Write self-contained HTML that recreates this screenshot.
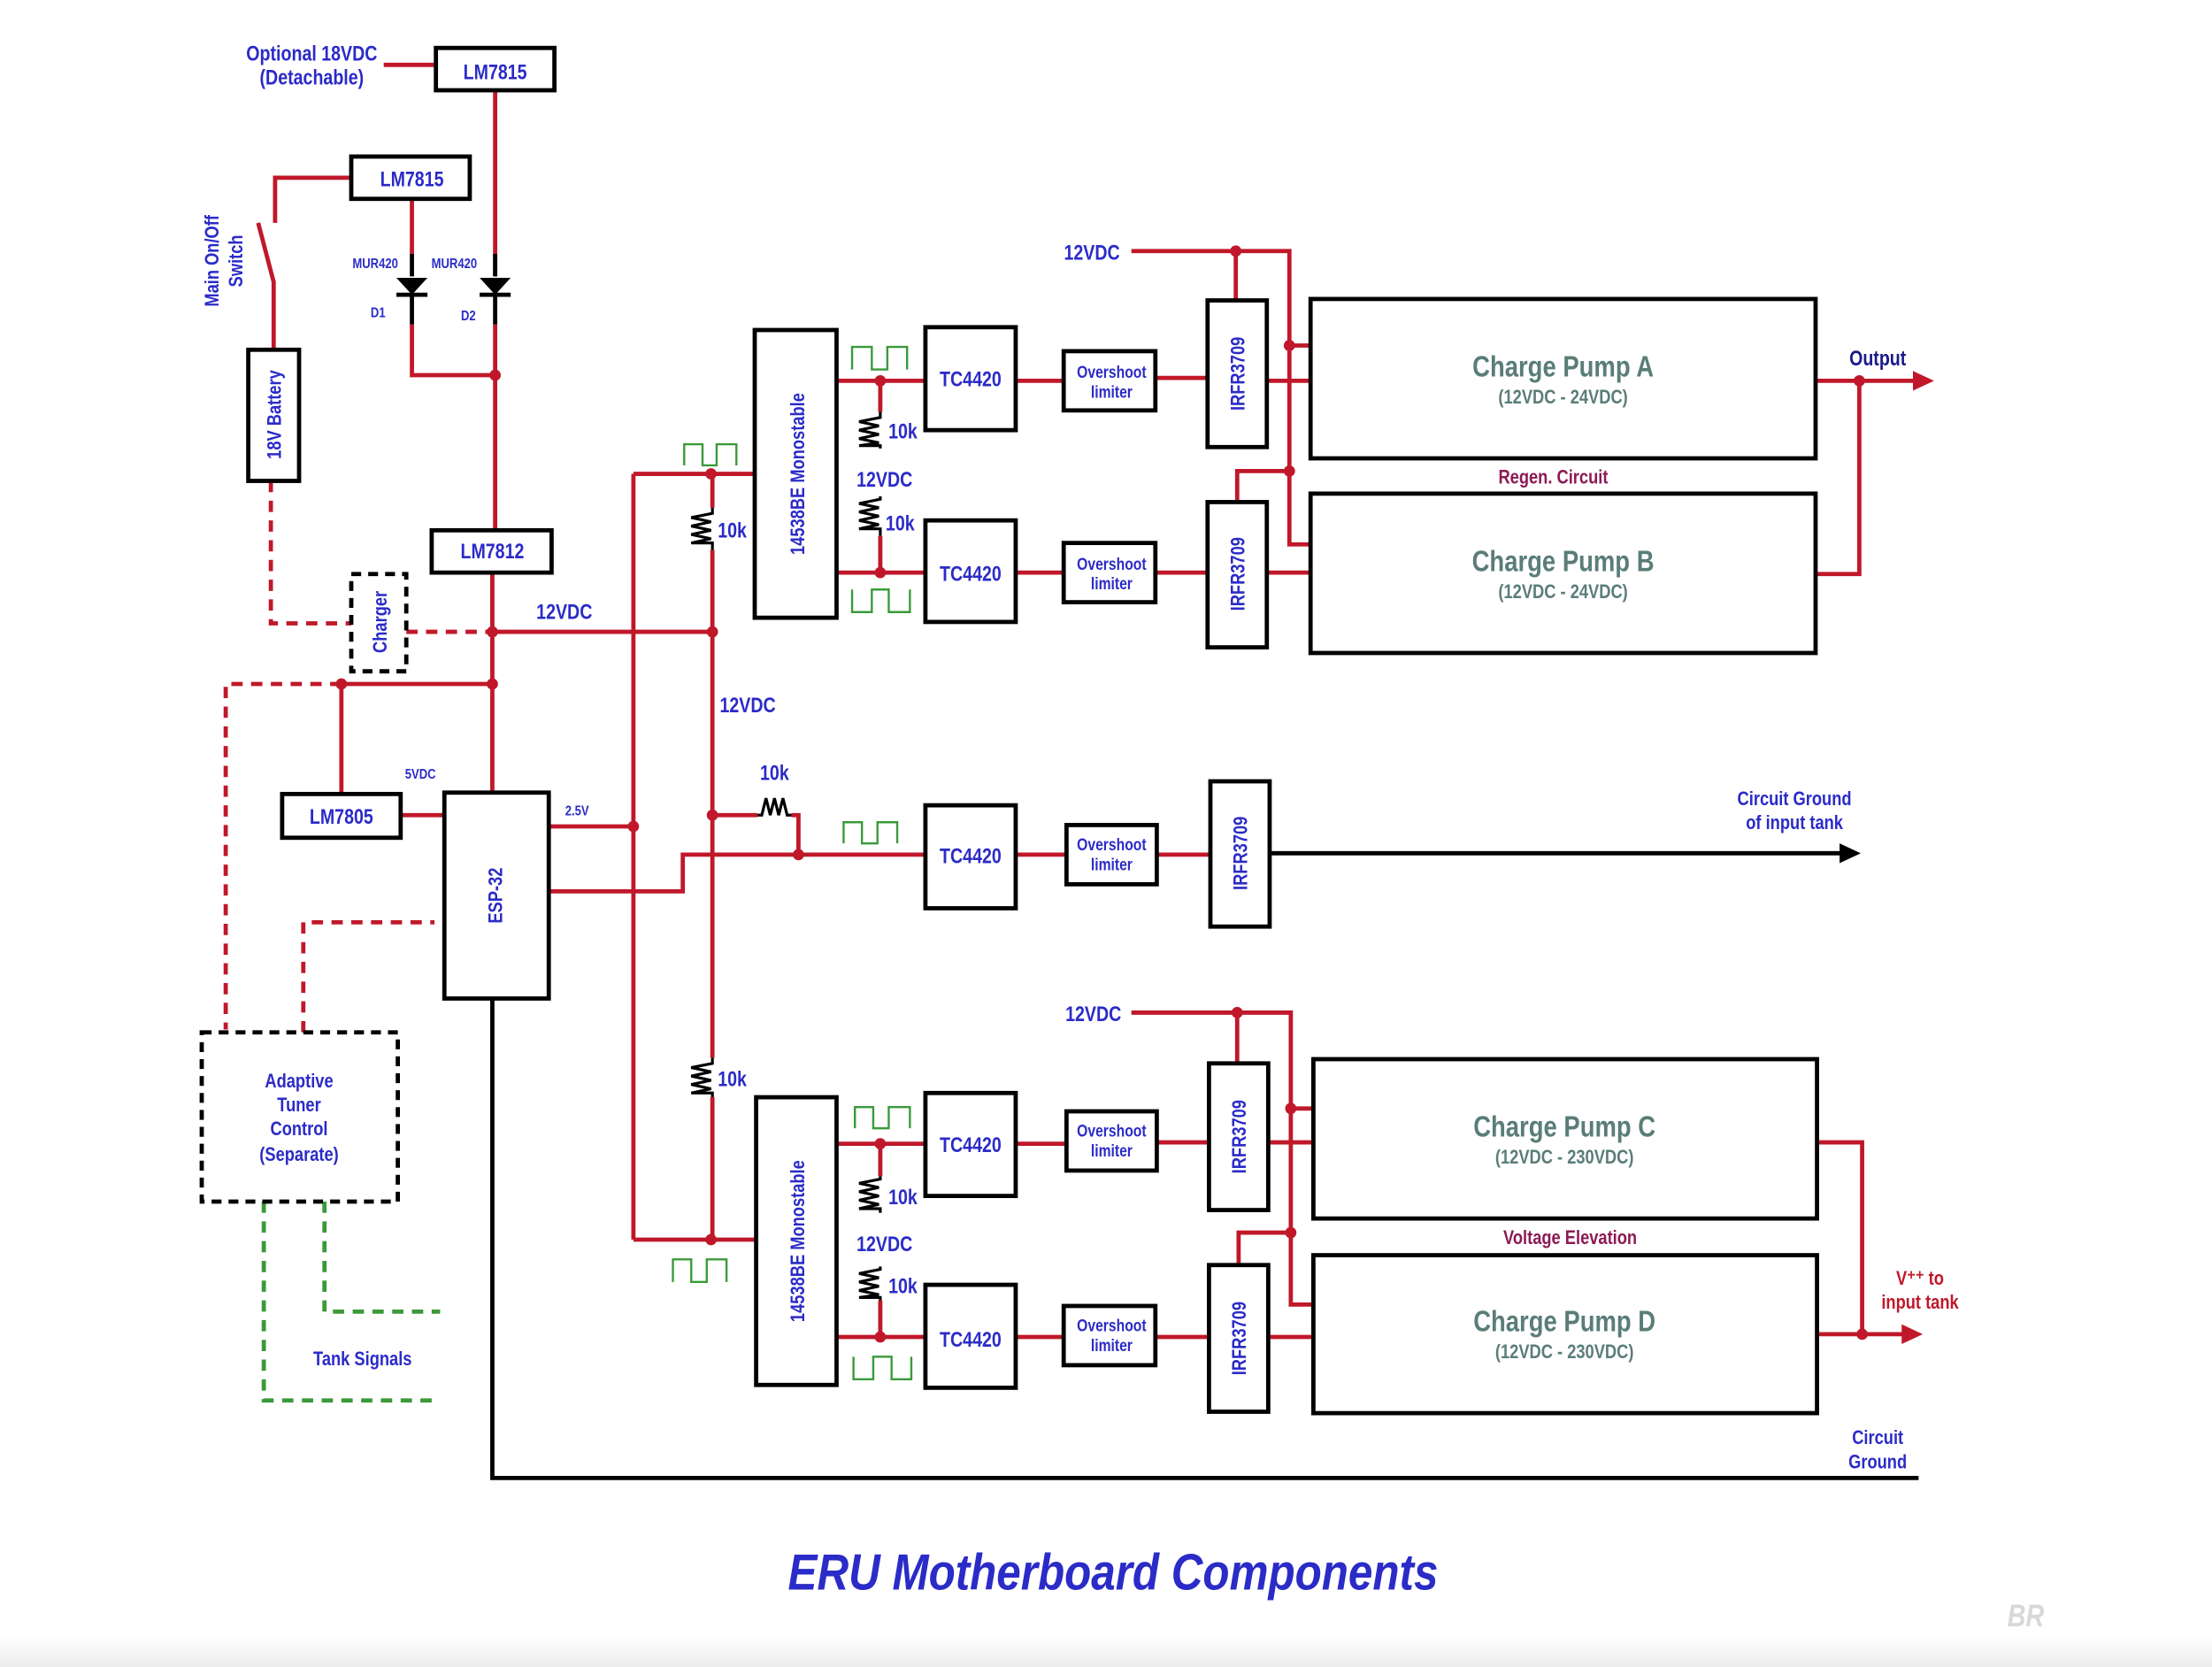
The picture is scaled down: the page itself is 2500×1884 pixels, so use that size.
<!DOCTYPE html>
<html><head><meta charset="utf-8"><style>
html,body{margin:0;padding:0;background:#fff;}
svg{display:block;}
text{font-family:"Liberation Sans Narrow","Liberation Sans",sans-serif;font-weight:bold;transform-box:fill-box;transform-origin:center;transform:scaleX(0.82);}
text.t{transform:scaleX(0.86);}
</style></head><body>
<svg width="2500" height="1884" viewBox="0 0 1568 1182" preserveAspectRatio="none" xmlns="http://www.w3.org/2000/svg">
<defs>
<linearGradient id="bg" x1="0" y1="0" x2="0" y2="1"><stop offset="0" stop-color="#fff"/><stop offset="1" stop-color="#ececec"/></linearGradient>
</defs>
<rect x="0" y="0" width="1568" height="1182" fill="#fff"/>
<rect x="0" y="1160" width="1568" height="22" fill="url(#bg)"/>

<g fill="none" stroke="#c0182a" stroke-width="3">
<path d="M272 46H309"/>
<path d="M351 64V196"/>
<path d="M351 230V376"/>
<path d="M249 126H195V158"/>
<path d="M183 158L194 200V248"/>
<path d="M292 141V180"/>
<path d="M292 230V266H351"/>
<path d="M349 406V562"/>
<path d="M349 448H505"/>
<path d="M242 485H349"/>
<path d="M242 485V563"/>
<path d="M284 578H315"/>
<path d="M389 586H449"/>
<path d="M389 632H484V606H655"/>
<path d="M449 336V879"/>
<path d="M449 336H535"/>
<path d="M449 879H536"/>
<path d="M505 336V360"/>
<path d="M505 390V750"/>
<path d="M505 778V879"/>
<path d="M505 578H537"/>
<path d="M561 578H566V606"/>
<path d="M593 270H656"/><path d="M624 270V292"/>
<path d="M593 406H656"/><path d="M624 380V406"/>
<path d="M720 270H754"/><path d="M819 268H856"/><path d="M898 270H929"/>
<path d="M720 406H754"/><path d="M819 406H856"/><path d="M898 406H929"/>
<path d="M802 178H914V386H929"/>
<path d="M876 178V213"/>
<path d="M914 245H929"/>
<path d="M914 334H877V356"/>
<path d="M1287 270H1358"/>
<path d="M1318 270V407H1287"/>
<path d="M720 606H756"/><path d="M820 606H858"/>
<path d="M593 811H656"/><path d="M624 811V834"/>
<path d="M593 948H656"/><path d="M624 922V948"/>
<path d="M720 811H756"/><path d="M820 810H857"/><path d="M899 810H931"/>
<path d="M720 948H754"/><path d="M819 948H857"/><path d="M899 948H931"/>
<path d="M802 718H915V925H931"/>
<path d="M877 718V754"/>
<path d="M915 786H931"/>
<path d="M915 874H878V897"/>
<path d="M1288 810H1320V946"/>
<path d="M1288 946H1350"/>
</g>
<g fill="none" stroke="#c0182a" stroke-width="3" stroke-dasharray="8,6">
<path d="M192 341V442H249"/>
<path d="M288 448H349"/>
<path d="M242 485H160V730"/>
<path d="M215 732V654H308"/>
</g>
<g fill="none" stroke="#3a9a3a" stroke-width="3" stroke-dasharray="8,6">
<path d="M187 852V993H312"/>
<path d="M230 852V930H312"/>
</g>
<g fill="none" stroke="#000" stroke-width="3">
<path d="M351 180V196M351 209V230"/>
<path d="M292 180V196M292 209V230"/>
<path d="M340 209H362M281 209H303" />
<path d="M349 708V1048H1360"/>
<path d="M900 605H1305"/>
</g>
<g fill="#000">
<polygon points="340,197 362,197 351,209"/>
<polygon points="281,197 303,197 292,209"/>
<polygon points="1304,598 1319,605 1304,612"/>
</g>
<g fill="#c0182a">
<polygon points="1356,263 1371,270 1356,277"/>
<polygon points="1348,939 1363,946 1348,953"/>
<circle cx="351" cy="266" r="4"/><circle cx="349" cy="448" r="4"/><circle cx="349" cy="485" r="4"/>
<circle cx="242" cy="485" r="4"/><circle cx="449" cy="586" r="4"/><circle cx="566" cy="606" r="4"/>
<circle cx="504" cy="336" r="4"/><circle cx="505" cy="448" r="4"/><circle cx="505" cy="578" r="4"/>
<circle cx="504" cy="879" r="4"/><circle cx="624" cy="270" r="4"/><circle cx="624" cy="406" r="4"/>
<circle cx="876" cy="178" r="4"/><circle cx="914" cy="245" r="4"/><circle cx="914" cy="334" r="4"/>
<circle cx="1318" cy="270" r="4"/><circle cx="624" cy="811" r="4"/><circle cx="624" cy="948" r="4"/>
<circle cx="877" cy="718" r="4"/><circle cx="915" cy="786" r="4"/><circle cx="915" cy="874" r="4"/>
<circle cx="1320" cy="946" r="4"/>
</g>
<g fill="none" stroke="#000" stroke-width="2">
<path d="M505 360V364L490 367L504 370L490 373L504 376L490 379L504 382L490 385H505V390"/>
<path d="M505 750V754L490 757L504 760L490 763L504 766L490 769L504 772L490 775H505V778"/>
<path d="M624 292V296L609 299L623 302L609 305L623 308L609 311L623 314L609 316H624V318"/>
<path d="M624 352V354L609 357L623 360L609 363L623 366L609 369L623 372L609 375H624V380"/>
<path d="M624 834V836L609 839L623 842L609 845L623 848L609 851L623 854L609 857H624V860"/>
<path d="M624 898V900L609 903L623 906L609 909L623 912L609 915L623 918L609 920H624V922"/>
<path d="M537 578H540L543 566L546 578L549 566L552 578L555 566L558 578H561"/>
</g>
<g fill="none" stroke="#3a9a3a" stroke-width="1.5">
<path d="M485 330V315H498V330H508V315H522V330"/>
<path d="M604 262V246H618V262H629V246H643V262"/>
<path d="M604 418V434H618V418H630V434H645V418"/>
<path d="M598 598V583H611V598H622V583H636V598"/>
<path d="M606 800V785H619V800H630V785H645V800"/>
<path d="M605 962V978H619V962H632V978H646V962"/>
<path d="M477 909V893H490V909H501V893H515V909"/>
</g>
<g fill="#fff" stroke="#000" stroke-width="3">
<rect x="309" y="34" width="84" height="30"/>
<rect x="249" y="111" width="84" height="30"/>
<rect x="176" y="248" width="36" height="93"/>
<rect x="306" y="376" width="85" height="30"/>
<rect x="200" y="563" width="84" height="31"/>
<rect x="315" y="562" width="74" height="146"/>
<rect x="535" y="234" width="58" height="204"/>
<rect x="536" y="778" width="57" height="204"/>
<rect x="656" y="232" width="64" height="73"/>
<rect x="656" y="369" width="64" height="72"/>
<rect x="656" y="571" width="64" height="73"/>
<rect x="656" y="775" width="64" height="73"/>
<rect x="656" y="911" width="64" height="73"/>
<rect x="754" y="249" width="65" height="42"/>
<rect x="754" y="385" width="65" height="42"/>
<rect x="756" y="585" width="64" height="42"/>
<rect x="756" y="788" width="64" height="42"/>
<rect x="754" y="926" width="65" height="42"/>
<rect x="856" y="213" width="42" height="104"/>
<rect x="856" y="356" width="42" height="103"/>
<rect x="858" y="554" width="42" height="103"/>
<rect x="857" y="754" width="42" height="104"/>
<rect x="857" y="897" width="42" height="104"/>
<rect x="929" y="212" width="358" height="113"/>
<rect x="929" y="350" width="358" height="113"/>
<rect x="931" y="751" width="357" height="113"/>
<rect x="931" y="890" width="357" height="112"/>
</g>
<g fill="#fff" stroke="#000" stroke-width="3" stroke-dasharray="7,5">
<rect x="249" y="407" width="39" height="69"/>
<rect x="143" y="732" width="139" height="120"/>
</g>
<g fill="#2b2bc8" font-size="15" text-anchor="middle">
<text x="221" y="43">Optional 18VDC</text>
<text x="221" y="60">(Detachable)</text>
<text x="351" y="56">LM7815</text>
<text x="292" y="132">LM7815</text>
<text x="349" y="396">LM7812</text>
<text x="242" y="584">LM7805</text>
<text x="688" y="274">TC4420</text>
<text x="688" y="412">TC4420</text>
<text x="688" y="612">TC4420</text>
<text x="688" y="817">TC4420</text>
<text x="688" y="955">TC4420</text>
<text x="400" y="439">12VDC</text>
<text x="530" y="505">12VDC</text>
<text x="627" y="345">12VDC</text>
<text x="627" y="887">12VDC</text>
<text x="774" y="184">12VDC</text>
<text x="775" y="724">12VDC</text>
<text x="519" y="381">10k</text>
<text x="519" y="770">10k</text>
<text x="549" y="553">10k</text>
<text x="640" y="311">10k</text>
<text x="638" y="376">10k</text>
<text x="640" y="854">10k</text>
<text x="640" y="917">10k</text>
<text x="1272" y="571" font-size="14">Circuit Ground</text>
<text x="1272" y="588" font-size="14">of input tank</text>
<text x="1331" y="1024" font-size="14">Circuit</text>
<text x="1331" y="1041" font-size="14">Ground</text>
<text x="257" y="968" font-size="14">Tank Signals</text>
<text x="212" y="771" font-size="14">Adaptive</text>
<text x="212" y="788" font-size="14">Tuner</text>
<text x="212" y="805" font-size="14">Control</text>
<text x="212" y="823" font-size="14">(Separate)</text>
</g>
<g fill="#2b2bc8" font-size="12" text-anchor="middle">
<text x="788" y="268">Overshoot</text><text x="788" y="282">limiter</text>
<text x="788" y="404">Overshoot</text><text x="788" y="418">limiter</text>
<text x="788" y="603">Overshoot</text><text x="788" y="617">limiter</text>
<text x="788" y="806">Overshoot</text><text x="788" y="820">limiter</text>
<text x="788" y="944">Overshoot</text><text x="788" y="958">limiter</text>
</g>
<g fill="#2b2bc8" font-size="10" text-anchor="middle">
<text x="266" y="190">MUR420</text>
<text x="322" y="190">MUR420</text>
<text x="268" y="225">D1</text>
<text x="332" y="227">D2</text>
<text x="298" y="552">5VDC</text>
<text x="409" y="578">2.5V</text>
</g>
<g fill="#2b2bc8" font-size="14" text-anchor="middle">
<g transform="translate(199,294) rotate(-90)"><text x="0" y="0">18V Battery</text></g>
<g transform="translate(274,441) rotate(-90)"><text x="0" y="0">Charger</text></g>
<g transform="translate(356,635) rotate(-90)"><text x="0" y="0">ESP-32</text></g>
<g transform="translate(570,336) rotate(-90)"><text x="0" y="0">14538BE Monostable</text></g>
<g transform="translate(570,880) rotate(-90)"><text x="0" y="0">14538BE Monostable</text></g>
<g transform="translate(882,265) rotate(-90)"><text x="0" y="0">IRFR3709</text></g>
<g transform="translate(882,407) rotate(-90)"><text x="0" y="0">IRFR3709</text></g>
<g transform="translate(884,605) rotate(-90)"><text x="0" y="0">IRFR3709</text></g>
<g transform="translate(883,806) rotate(-90)"><text x="0" y="0">IRFR3709</text></g>
<g transform="translate(883,949) rotate(-90)"><text x="0" y="0">IRFR3709</text></g>
<g transform="translate(155,185) rotate(-90)"><text x="0" y="0">Main On/Off</text></g>
<g transform="translate(172,185) rotate(-90)"><text x="0" y="0">Switch</text></g>
</g>
<g fill="#5a7d78" text-anchor="middle">
<text x="1108" y="267" font-size="21">Charge Pump A</text>
<text x="1108" y="286" font-size="14" font-weight="normal">(12VDC - 24VDC)</text>
<text x="1108" y="405" font-size="21">Charge Pump B</text>
<text x="1108" y="424" font-size="14" font-weight="normal">(12VDC - 24VDC)</text>
<text x="1109" y="806" font-size="21">Charge Pump C</text>
<text x="1109" y="825" font-size="14" font-weight="normal">(12VDC - 230VDC)</text>
<text x="1109" y="944" font-size="21">Charge Pump D</text>
<text x="1109" y="963" font-size="14" font-weight="normal">(12VDC - 230VDC)</text>
</g>
<g fill="#8b1a55" font-size="14" text-anchor="middle">
<text x="1101" y="343">Regen. Circuit</text>
<text x="1113" y="882">Voltage Elevation</text>
</g>
<text x="1331" y="259" fill="#1a1a8a" font-size="15" text-anchor="middle">Output</text>
<text x="1361" y="911" fill="#c0182a" font-size="14" text-anchor="middle">V⁺⁺ to</text>
<text x="1361" y="928" fill="#c0182a" font-size="14" text-anchor="middle">input tank</text>
<text class="t" x="789" y="1127" fill="#2b2bc8" font-size="36" font-style="italic" text-anchor="middle">ERU Motherboard Components</text>
<text x="1436" y="1153" fill="#d8d8d8" font-size="22" font-style="italic" text-anchor="middle">BR</text>
</svg>
</body></html>
